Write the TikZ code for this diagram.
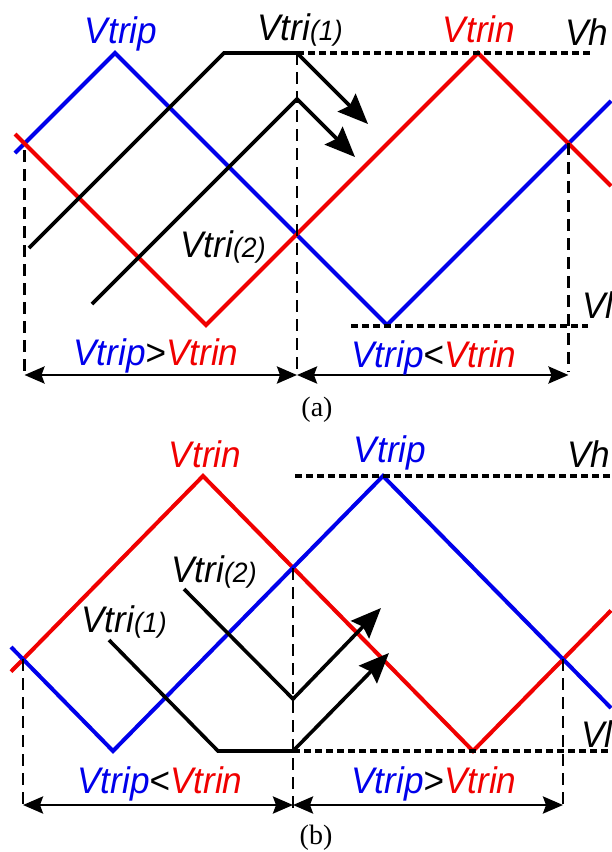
\documentclass[tikz,border=0pt]{standalone}
\usepackage{fontspec}
\usepackage{graphicx}
\setmainfont{Liberation Serif}
\newfontfamily\labfont{Liberation Sans}
\definecolor{wvblue}{RGB}{0,0,235}
\definecolor{wvred}{RGB}{240,0,0}
\usepackage{tikz}
\usetikzlibrary{arrows.meta,positioning,calc}
\newcommand{\vlab}[1]{\scalebox{0.95}[1]{\labfont\itshape\fontsize{37}{42}\selectfont #1}}
\newcommand{\vtri}[1]{\scalebox{0.95}[1]{\labfont\itshape\fontsize{37}{42}\selectfont Vtri\fontsize{28}{32}\selectfont(#1)}}
\newcommand{\cmp}[1]{\vlab{\textcolor{wvblue}{Vtrip}#1\textcolor{wvred}{Vtrin}}}

\begin{document}
\begin{tikzpicture}[x=1pt, y=-1pt,
    wave/.style={line width=4pt, line join=miter},
    ramp/.style={line width=3.6pt, black, -{Stealth[length=30pt, width=25pt, inset=4pt]}},
    guide/.style={line width=2.4pt, dash pattern=on 12pt off 7pt},
    level/.style={line width=3.2pt, dash pattern=on 7pt off 4pt},
    span/.style={line width=2.8pt, {Stealth[length=20pt, width=17pt, inset=3pt]}-{Stealth[length=20pt, width=17pt, inset=3pt]}},
    lab/.style={inner sep=0pt, anchor=base},
    sublab/.style={inner sep=0pt, font=\fontsize{28}{32}\selectfont}
  ]
    \useasboundingbox (0,0) rectangle (611,852);

    % (a) carriers
    \draw[wave, wvblue] (15,153) -- (115,53) -- (387,325) -- (611,101);
    \draw[wave, wvred]  (15,134) -- (206,325) -- (478,53) -- (611,186);

    % (a) triangle ramps
    \draw[ramp] (29,248) -- (224,53) -- (297,53) -- (368,124);
    \draw[ramp] (92,304) -- (297,99) -- (355,157);

    % (a) guides and levels
    \draw[guide] (24.5,150) -- (24.5,372);
    \draw[guide] (297,53)   -- (297,372);
    \draw[guide] (568.5,143) -- (568.5,372);
    \draw[level] (297,53)  -- (592,53);
    \draw[level] (351,326) -- (588,326);

    \coordinate (a1) at (24.5,375);
    \coordinate (a2) at (297,375);
    \coordinate (a3) at (568.5,375);
    \draw[span] (a1) -- (a2);
    \draw[span] (a2) -- (a3);

    % (a) labels
    \node[lab, text=wvblue] (tripA) at (121,43)  {\vlab{Vtrip}};
    \node[lab]              (tri1A) at (300,40)  {\vtri{1}};
    \node[lab, text=wvred]  (trinA) at (479,42)  {\vlab{Vtrin}};
    \node[lab, anchor=base west] (vhA) at (565,45) {\vlab{Vh}};
    \node[lab]              (tri2A) at (223,257) {\vtri{2}};
    \node[lab, anchor=base west] (vlA) at (582,318) {\vlab{Vl}};
    \node[lab] (gtA) at (156,365) {\cmp{>}};
    \node[lab] (ltA) at (434,367) {\cmp{<}};
    \node[sublab] (capA) at (317,410) {(a)};

    % (b) carriers
    \draw[wave, wvred]  (11,671.6) -- (203,476) -- (473,751) -- (611,610.5);
    \draw[wave, wvblue] (11,647) -- (113,751) -- (383,476) -- (611,708);

    % (b) triangle ramps
    \draw[ramp] (184,589) -- (293,699) -- (381,608);
    \draw[ramp] (109,640) -- (218,751) -- (293,751) -- (389,653);

    % (b) guides and levels
    \draw[guide] (23,659)  -- (23,808);
    \draw[guide] (293,568) -- (293,808);
    \draw[guide] (563,659) -- (563,808);
    \draw[level] (295,476) -- (611,476);
    \draw[level] (293,751) -- (611,751);

    \coordinate (b1) at (23,805);
    \coordinate (b2) at (293,805);
    \coordinate (b3) at (563,805);
    \draw[span] (b1) -- (b2);
    \draw[span] (b2) -- (b3);

    % (b) labels
    \node[lab, text=wvred]  (trinB) at (205,467) {\vlab{Vtrin}};
    \node[lab, text=wvblue] (tripB) at (390,462) {\vlab{Vtrip}};
    \node[lab, anchor=base west] (vhB) at (567,467) {\vlab{Vh}};
    \node[lab]              (tri2B) at (214,582) {\vtri{2}};
    \node[lab]              (tri1B) at (124,632) {\vtri{1}};
    \node[lab, anchor=base west] (vlB) at (581,747) {\vlab{Vl}};
    \node[lab] (ltB) at (160,793) {\cmp{<}};
    \node[lab] (gtB) at (434,793) {\cmp{>}};
    \node[sublab] (capB) at (316,838) {(b)};
  \end{tikzpicture}
\end{document}
